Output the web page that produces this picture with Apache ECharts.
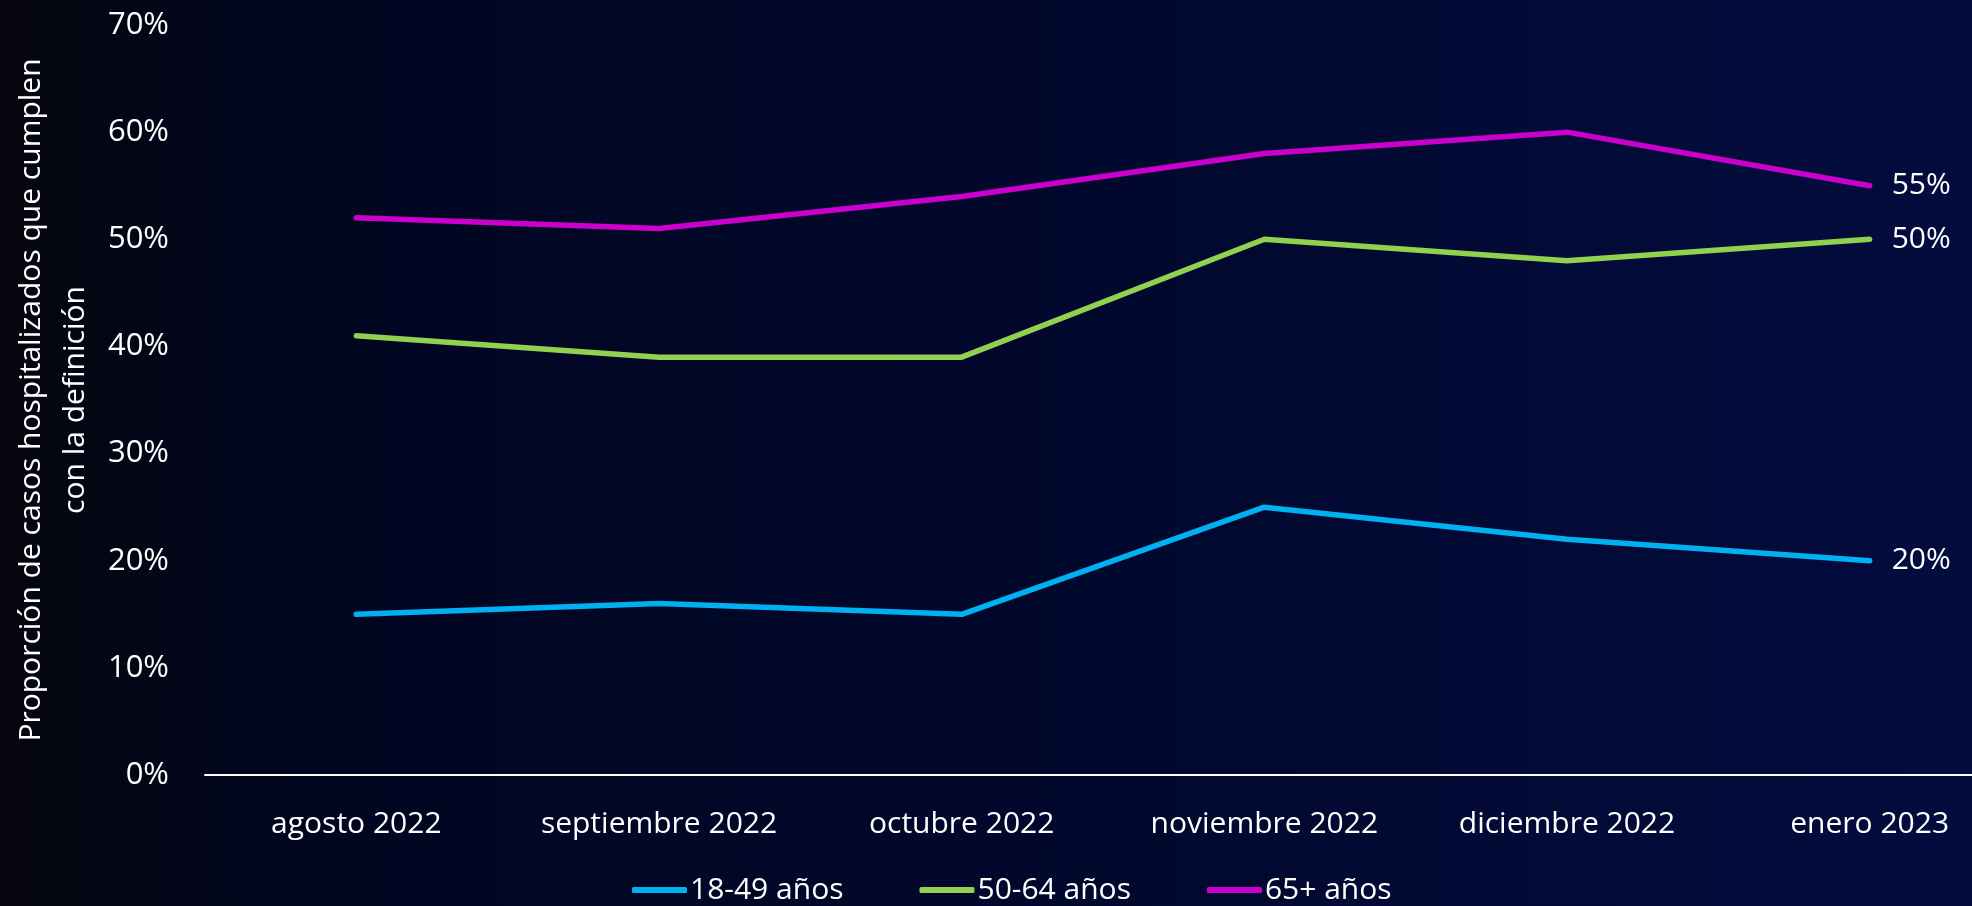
<!DOCTYPE html>
<html>
<head>
<meta charset="utf-8">
<script src="https://cdn.jsdelivr.net/npm/echarts@6/dist/echarts.min.js"></script>
<style>
html,body{margin:0;padding:0;width:1972px;height:906px;overflow:hidden;background:#02061f;}
#chart{width:2021px;height:906px;}
</style>
</head>
<body>
<div id="chart"></div>
<script>
const categories = ['agosto 2022','septiembre 2022','octubre 2022','noviembre 2022','diciembre 2022','enero 2023'];
const seriesNames = ['18-49 años','50-64 años','65+ años'];
const values1849 = [15, 16, 15, 25, 22, 20];
const values5064 = [41, 39, 39, 50, 48, 50];
const values65 = [52, 51, 54, 58, 60, 55];
const yTicks = [0, 10, 20, 30, 40, 50, 60, 70];
const yTitle = 'Proporción de casos hospitalizados que cumplen\ncon la definición';

const colors = ['#00b0f0', '#92d050', '#cc00cc'];
const allValues = [values1849, values5064, values65];

const chart = echarts.init(document.getElementById('chart'));

const series = seriesNames.map((name, i) => ({
  name: name,
  type: 'line',
  data: allValues[i],
  symbol: 'none',
  showSymbol: false,
  lineStyle: { color: colors[i], width: 5.5, cap: 'round', join: 'round' },
  itemStyle: { color: colors[i] },
  endLabel: {
    show: true,
    distance: 22,
    color: '#ffffff',
    fontFamily: 'Open Sans',
    fontSize: 30,
    formatter: p => p.value + '%'
  },
  emphasis: { disabled: true },
  animation: false
}));

chart.setOption({
  backgroundColor: {
    type: 'linear', x: 0, y: 0, x2: 1, y2: 0,
    colorStops: [
      { offset: 0, color: '#05060e' },
      { offset: 0.15, color: '#010620' },
      { offset: 0.5, color: '#01082c' },
      { offset: 1, color: '#030c3f' }
    ]
  },
  animation: false,
  grid: { left: 205, top: 25, bottom: 131, right: 0, containLabel: false },
  legend: {
    data: seriesNames,
    left: 627,
    top: 870,
    icon: 'roundRect',
    itemWidth: 55,
    itemHeight: 6,
    itemGap: 76,
    textStyle: { color: '#ffffff', fontFamily: 'Open Sans', fontSize: 30, padding: [0,0,0,-2] }
  },
  xAxis: {
    type: 'category',
    data: categories,
    boundaryGap: true,
    axisLine: { show: true, lineStyle: { color: '#ffffff', width: 2 } },
    axisTick: { show: false },
    axisLabel: { color: '#ffffff', fontFamily: 'Open Sans', fontSize: 30, margin: 34, interval: 0 },
    splitLine: { show: false }
  },
  yAxis: {
    type: 'value',
    min: yTicks[0],
    max: yTicks[yTicks.length - 1],
    interval: 10,
    name: yTitle,
    nameLocation: 'middle',
    nameGap: 102,
    nameTextStyle: { color: '#ffffff', fontFamily: 'Open Sans', fontSize: 30, lineHeight: 44 },
    axisLine: { show: false },
    axisTick: { show: false },
    splitLine: { show: false },
    axisLabel: { color: '#ffffff', fontFamily: 'Open Sans', fontSize: 31, margin: 36, formatter: v => v + '%' }
  },
  series: series
});
</script>
</body>
</html>
